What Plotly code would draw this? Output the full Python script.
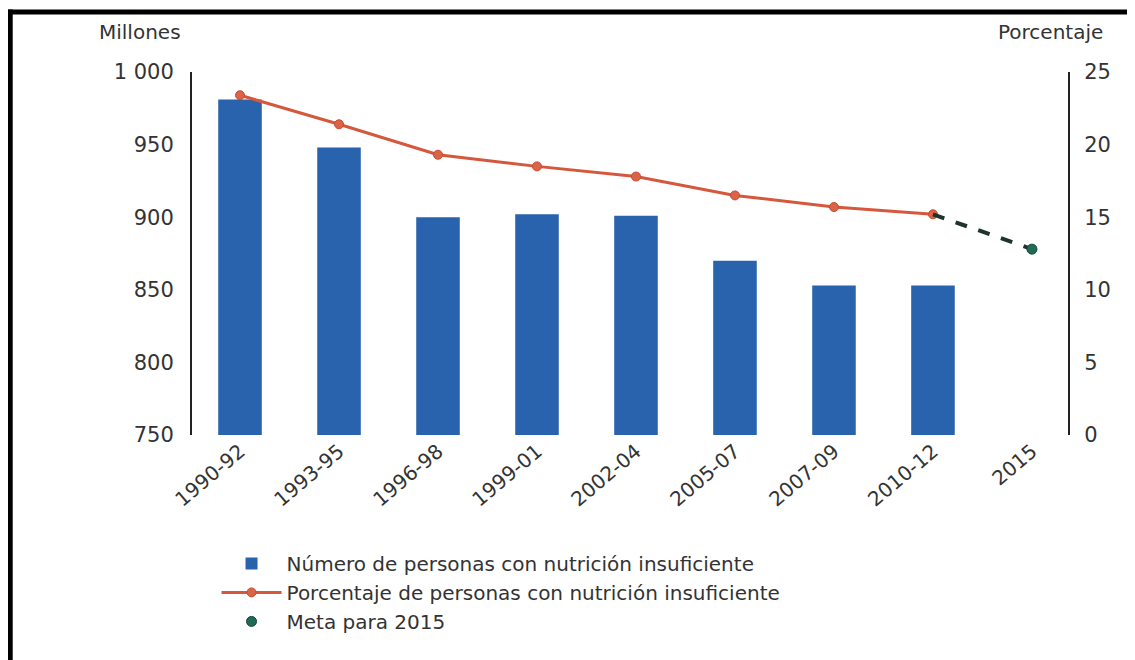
import plotly.graph_objects as go

# Datos
periodos = ['1990-92', '1993-95', '1996-98', '1999-01', '2002-04',
            '2005-07', '2007-09', '2010-12', '2015']
millones = [981, 948, 900, 902, 901, 870, 853, 853]
porcentaje = [23.4, 21.4, 19.3, 18.5, 17.8, 16.5, 15.7, 15.2]
meta_2015 = 12.8

font_main = 'DejaVu Sans'
gris = '#333333'

fig = go.Figure()

fig.add_trace(go.Bar(
    x=periodos[:8], y=millones,
    name='Número de personas con nutrición insuficiente',
    marker=dict(color='#2a63ad', line=dict(width=0)),
    width=0.44,
))

fig.add_trace(go.Scatter(
    x=periodos[:8], y=porcentaje, yaxis='y2',
    mode='lines+markers',
    name='Porcentaje de personas con nutrición insuficiente',
    line=dict(color='#d5583d', width=3),
    marker=dict(color='#dc6446', size=9, line=dict(color='#c94a32', width=1)),
))

# tramo punteado hacia la meta
fig.add_trace(go.Scatter(
    x=[periodos[7], periodos[8]], y=[porcentaje[-1], meta_2015], yaxis='y2',
    mode='lines', showlegend=False, hoverinfo='skip',
    line=dict(color='#1d332e', width=4, dash='dash'),
))

fig.add_trace(go.Scatter(
    x=[periodos[8]], y=[meta_2015], yaxis='y2',
    mode='markers', name='Meta para 2015',
    marker=dict(color='#1f6b56', size=10, line=dict(color='#17463a', width=1)),
))

fig.update_layout(
    width=1135, height=660,
    margin=dict(l=184, r=75, t=64, b=233),
    paper_bgcolor='white', plot_bgcolor='white',
    font=dict(family=font_main, color=gris, size=20),
    showlegend=True,
    legend=dict(
        x=0.028, y=-0.30, xanchor='left', yanchor='top',
        orientation='v', itemwidth=60,
        font=dict(family=font_main, size=20, color=gris),
        bgcolor='rgba(0,0,0,0)', traceorder='normal',
    ),
    xaxis=dict(
        type='category', categoryorder='array', categoryarray=periodos,
        range=[-0.485, 8.364], tickangle=-40,
        showline=False, showgrid=False, ticks='',
        tickfont=dict(size=20, color=gris),
    ),
    yaxis=dict(
        range=[750, 1000], tickvals=[750, 800, 850, 900, 950, 1000],
        ticktext=['750', '800', '850', '900', '950', '1 000'],
        showline=True, linecolor='#222222', linewidth=2,
        showgrid=False, zeroline=False, ticks='',
        ticklabelstandoff=12,
        tickfont=dict(size=21, color=gris),
    ),
    yaxis2=dict(
        range=[0, 25], tickvals=[0, 5, 10, 15, 20, 25],
        overlaying='y', side='right', anchor='x',
        showline=True, linecolor='#222222', linewidth=2,
        showgrid=False, zeroline=False, ticks='',
        ticklabelstandoff=10,
        tickfont=dict(size=21, color=gris),
    ),
    annotations=[
        dict(text='Millones', xref='paper', yref='paper', x=-0.108, y=1.11,
             xanchor='left', yanchor='middle', showarrow=False,
             font=dict(size=20, color=gris)),
        dict(text='Porcentaje', xref='paper', yref='paper', x=1.042, y=1.11,
             xanchor='right', yanchor='middle', showarrow=False,
             font=dict(size=20, color=gris)),
    ],
    shapes=[
        dict(type='line', xref='paper', yref='paper', x0=-0.21, x1=1.08,
             y0=1.165, y1=1.165, line=dict(color='black', width=5)),
        dict(type='line', xref='paper', yref='paper', x0=-0.2075, x1=-0.2075,
             y0=1.172, y1=-0.63, line=dict(color='black', width=5)),
    ],
)

fig.write_html('out.html')
